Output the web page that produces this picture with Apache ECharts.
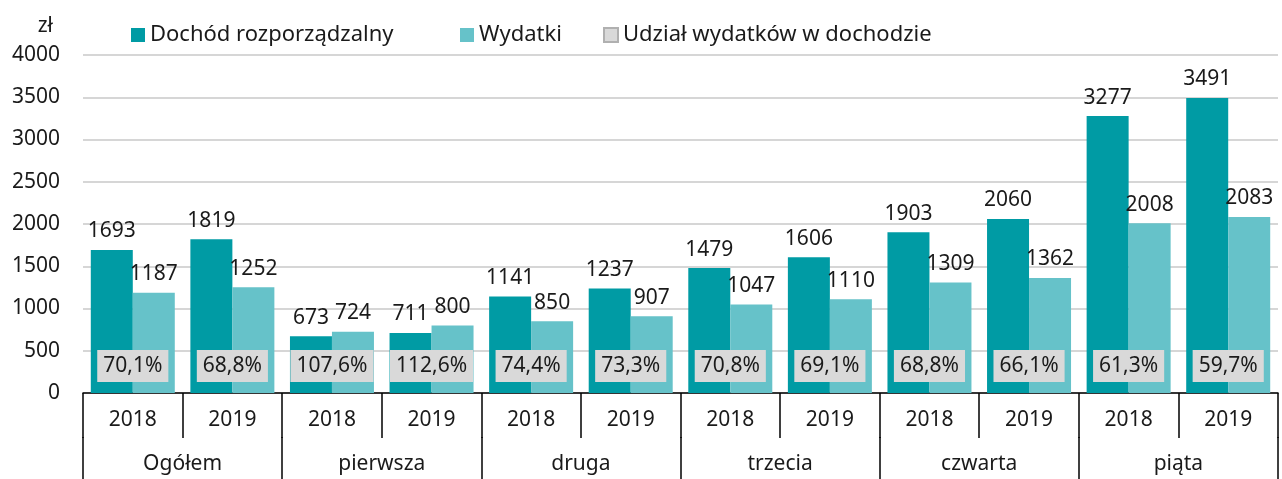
<!DOCTYPE html>
<html>
<head>
<meta charset="utf-8">
<script src="https://cdn.jsdelivr.net/npm/echarts@6/dist/echarts.min.js"></script>
<style>
  html, body { margin: 0; padding: 0; background: #fff; }
  #chart { width: 1282px; height: 479px; }
</style>
</head>
<body>
<div id="chart"></div>
<script>
// dane
const years = ['2018', '2019', '2018', '2019', '2018', '2019', '2018', '2019', '2018', '2019', '2018', '2019']
const groups = ['Ogółem', 'pierwsza', 'druga', 'trzecia', 'czwarta', 'piąta']
const dochod = [1693, 1819, 673, 711, 1141, 1237, 1479, 1606, 1903, 2060, 3277, 3491]
const wydatki = [1187, 1252, 724, 800, 850, 907, 1047, 1110, 1309, 1362, 2008, 2083]
const udzial = ['70,1%', '68,8%', '107,6%', '112,6%', '74,4%', '73,3%', '70,8%', '69,1%', '68,8%', '66,1%', '61,3%', '59,7%']
const yTicks = [0, 500, 1000, 1500, 2000, 2500, 3000, 3500, 4000]

const FONT = 'Noto Sans'
const TXT = '#1a1a1a'
const FS = 21

const chart = echarts.init(document.getElementById('chart'))

const legendItem = (name, left) => ({
  left: left,
  top: 19,
  itemWidth: 14,
  itemHeight: 14,
  itemGap: 6,
  icon: 'rect',
  textStyle: { fontFamily: FONT, fontSize: 22, color: TXT },
  data: [name]
})

const option = {
  animation: false,
  textStyle: { fontFamily: FONT, color: TXT },
  legend: [
    legendItem('Dochód rozporządzalny', 126),
    legendItem('Wydatki', 455),
    legendItem('Udział wydatków w dochodzie', 598)
  ],
  grid: [
    { left: 83, right: 4, top: 55, bottom: 86, outerBoundsMode: 'none' },
    // pasek pod osią na nazwy grup
    { left: 83, right: 4, top: 437, height: 45, outerBoundsMode: 'none' }
  ],
  xAxis: [
    {
      type: 'category',
      data: years,
      axisLine: { lineStyle: { color: '#000', width: 1.5 } },
      axisTick: { show: true, length: 45, lineStyle: { color: '#000', width: 1.5 } },
      axisLabel: { interval: 0, fontSize: FS, color: TXT, margin: 17, fontFamily: FONT }
    },
    {
      type: 'category',
      gridIndex: 1,
      data: groups,
      position: 'top',
      axisLine: { show: false },
      axisTick: { show: false },
      splitLine: { show: true, interval: 0, lineStyle: { color: '#000', width: 1.5 } },
      axisLabel: { inside: true, interval: 0, fontSize: FS, color: TXT, margin: 17, fontFamily: FONT }
    }
  ],
  yAxis: [
    {
      type: 'value',
      min: yTicks[0],
      max: yTicks[yTicks.length - 1],
      interval: 500,
      name: 'zł',
      nameGap: 18,
      nameTextStyle: { fontSize: FS, color: TXT, align: 'right', padding: [0, 30, 0, 0] },
      axisLine: { show: false },
      axisTick: { show: false },
      axisLabel: { fontSize: FS, color: TXT, margin: 23, formatter: v => String(v) },
      splitLine: { lineStyle: { color: '#c8c8c8', width: 1.5 } }
    },
    {
      type: 'value',
      gridIndex: 1,
      show: false
    }
  ],
  series: [
    {
      name: 'Dochód rozporządzalny',
      type: 'bar',
      data: dochod,
      barWidth: 42,
      barGap: '0%',
      itemStyle: { color: '#009ba4' },
      label: { show: true, position: 'top', distance: 8, fontSize: FS, color: TXT }
    },
    {
      name: 'Wydatki',
      type: 'bar',
      data: wydatki,
      barWidth: 42,
      barGap: '0%',
      itemStyle: { color: '#66c2c9' },
      label: { show: true, position: 'top', distance: 8, fontSize: FS, color: TXT }
    },
    {
      name: 'Udział wydatków w dochodzie',
      type: 'scatter',
      symbol: 'rect',
      symbolSize: 0,
      itemStyle: { color: '#d9d9d9', borderColor: '#b0b0b0', borderWidth: 1, opacity: 1 },
      data: udzial.map((u, i) => [i, 320]),
      z: 5,
      label: {
        show: true,
        position: 'inside',
        formatter: p => udzial[p.dataIndex],
        backgroundColor: '#d9d9d9',
        padding: [6, 6, 5, 6],
        fontSize: FS,
        color: TXT,
        opacity: 1
      }
    }
  ]
}

chart.setOption(option)
</script>
</body>
</html>
